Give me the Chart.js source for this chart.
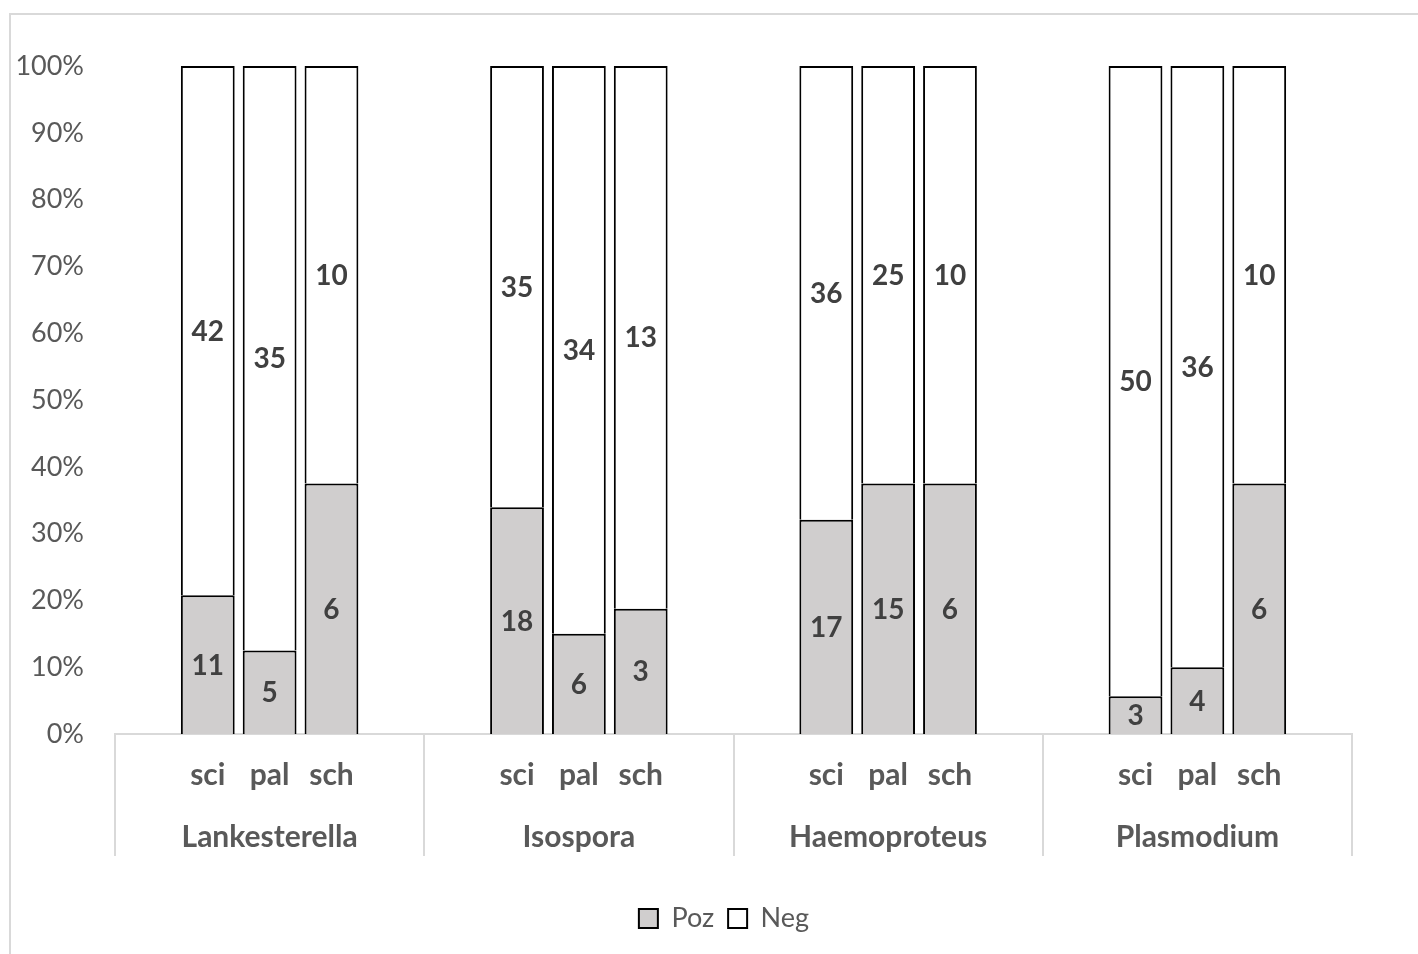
<!DOCTYPE html>
<html>
<head>
<meta charset="utf-8">
<script src="https://cdn.jsdelivr.net/npm/chart.js@4.4.1/dist/chart.umd.min.js"></script>
<style>
  html, body { margin: 0; padding: 0; background: #ffffff; }
  #wrap { position: relative; width: 1418px; height: 954px; }
  canvas { display: block; }
</style>
</head>
<body>
<div id="wrap"><canvas id="chart" width="1418" height="954"></canvas></div>
<script>
// Parasite genera and host species
const groups = ['Lankesterella', 'Isospora', 'Haemoproteus', 'Plasmodium'];
const species = ['sci', 'pal', 'sch'];

// Counts of positive / negative samples, in order group by group (sci, pal, sch)
const pozCounts = [11, 5, 6, 18, 6, 3, 17, 15, 6, 3, 4, 6];
const negCounts = [42, 35, 10, 35, 34, 13, 36, 25, 10, 50, 36, 10];

const seriesNames = ['Poz', 'Neg'];
const yTickStep = 10;

// Each genus gets five slots: an empty one on each side, the three species in the middle
const slotLabels = [];
const pozPct = [], negPct = [], pozN = [], negN = [];
groups.forEach((g, gi) => {
  slotLabels.push('');
  pozPct.push(null); negPct.push(null); pozN.push(null); negN.push(null);
  species.forEach((s, si) => {
    const k = gi * species.length + si;
    const total = pozCounts[k] + negCounts[k];
    slotLabels.push(s);
    pozPct.push(pozCounts[k] / total * 100);
    negPct.push(negCounts[k] / total * 100);
    pozN.push(pozCounts[k]);
    negN.push(negCounts[k]);
  });
  slotLabels.push('');
  pozPct.push(null); negPct.push(null); pozN.push(null); negN.push(null);
});

const FONT = 'Lato, "Open Sans", "DejaVu Sans", sans-serif';

// Frame around the whole chart
const frame = {
  id: 'frame',
  beforeDraw(chart) {
    const ctx = chart.ctx;
    ctx.save();
    ctx.strokeStyle = '#d9d9d9';
    ctx.lineWidth = 2;
    ctx.strokeRect(10, 14, 1430, 960);
    ctx.restore();
  }
};

// Vertical separators between genera below the axis
const groupSeparators = {
  id: 'groupSeparators',
  afterDraw(chart) {
    const x = chart.scales.x;
    const ctx = chart.ctx;
    const slot = (x.right - x.left) / slotLabels.length;
    ctx.save();
    ctx.strokeStyle = '#d9d9d9';
    ctx.lineWidth = 2;
    for (let g = 0; g <= groups.length; g++) {
      const px = Math.round(x.left + g * 5 * slot);
      ctx.beginPath();
      ctx.moveTo(px, chart.chartArea.bottom);
      ctx.lineTo(px, chart.chartArea.bottom + 122);
      ctx.stroke();
    }
    ctx.restore();
  }
};

// Count labels centred in every segment
const valueLabels = {
  id: 'valueLabels',
  afterDatasetsDraw(chart) {
    const ctx = chart.ctx;
    ctx.save();
    ctx.font = 'bold 28px ' + FONT;
    ctx.fillStyle = '#404040';
    ctx.textAlign = 'center';
    ctx.textBaseline = 'middle';
    chart.data.datasets.forEach((ds, di) => {
      const meta = chart.getDatasetMeta(di);
      meta.data.forEach((bar, i) => {
        const n = ds.counts[i];
        if (n == null) return;
        const p = bar.getProps(['x', 'y', 'base'], true);
        ctx.fillText(String(n), p.x, (p.y + p.base) / 2 + 1);
      });
    });
    ctx.restore();
  }
};

new Chart(document.getElementById('chart'), {
  type: 'bar',
  data: {
    labels: slotLabels,
    datasets: [
      {
        label: seriesNames[0],
        data: pozPct,
        counts: pozN,
        backgroundColor: '#d0cece',
        borderColor: '#000000',
        borderWidth: 2
      },
      {
        label: seriesNames[1],
        data: negPct,
        counts: negN,
        backgroundColor: '#ffffff',
        borderColor: '#000000',
        borderWidth: 2
      }
    ]
  },
  options: {
    responsive: false,
    animation: false,
    devicePixelRatio: 1,
    layout: { padding: { top: 66, right: -15, bottom: 12, left: 15 } },
    datasets: { bar: { barPercentage: 1, categoryPercentage: 0.87 } },
    scales: {
      x: {
        type: 'category',
        stacked: true,
        weight: 1,
        grid: { display: false, drawTicks: false },
        border: { display: true, color: '#d9d9d9', width: 2 },
        ticks: {
          autoSkip: false, maxRotation: 0, padding: 23,
          color: '#595959', font: { family: FONT, size: 30, weight: 'bold' }
        },
        afterFit(s) { s.height = 62; }
      },
      x2: {
        type: 'category',
        position: 'bottom',
        labels: groups,
        weight: 2,
        offset: true,
        grid: { display: false, drawTicks: false },
        border: { display: false },
        ticks: {
          autoSkip: false, maxRotation: 0, padding: 23,
          color: '#595959', font: { family: FONT, size: 30, weight: 'bold' }
        },
        afterFit(s) { s.height = 95; }
      },
      y: {
        stacked: true,
        min: 0,
        max: 100,
        grid: { display: false, drawTicks: false },
        border: { display: false },
        ticks: {
          stepSize: yTickStep,
          padding: 31,
          color: '#595959',
          font: { family: FONT, size: 27 },
          callback: v => v + '%'
        },
        afterFit(s) { s.width = 100; }
      },
      // empty strip on the right side of the plot
      yRight: {
        type: 'linear',
        position: 'right',
        display: true,
        grid: { display: false, drawTicks: false },
        border: { display: false },
        ticks: { display: false },
        afterFit(s) { s.width = 81; }
      }
    },
    plugins: {
      legend: {
        position: 'bottom',
        labels: {
          boxWidth: 19, boxHeight: 19, padding: 14,
          color: '#595959',
          font: { family: FONT, size: 27 }
        }
      },
      tooltip: { enabled: false }
    }
  },
  plugins: [frame, groupSeparators, valueLabels]
});
</script>
</body>
</html>
